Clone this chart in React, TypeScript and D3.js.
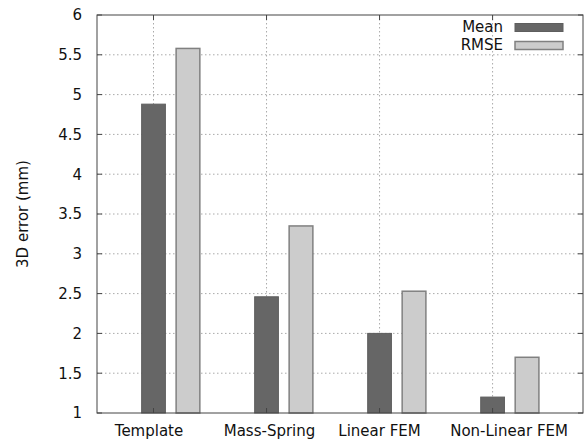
import React from "react";
import * as d3 from "d3";

const categories = ["Template", "Mass-Spring", "Linear FEM", "Non-Linear FEM"];
const meanValues = [4.88, 2.46, 2.0, 1.2];
const rmseValues = [5.58, 3.35, 2.53, 1.7];
const yTicks = [1, 1.5, 2, 2.5, 3, 3.5, 4, 4.5, 5, 5.5, 6];
const seriesNames = ["Mean", "RMSE"];

const W = 584, H = 443;
const L = 97, R = 583, T = 15, B = 413;
const FONT = "'DejaVu Sans', sans-serif";
// small horizontal nudges of the category labels (layout only)
const labelNudge = [-4.5, 3, 0, 16.5];

export default function App() {
  const x = d3.scaleLinear().domain([-0.5, 3.8]).range([L, R]);
  const y = d3.scaleLinear().domain([1, 6]).range([B, T]);
  const bw = x(0.21) - x(0);
  const off = x(0.305) - x(0);
  const gridStyle = { stroke: "#aaaaaa", strokeWidth: 1, strokeDasharray: "1.5,2.5" };
  const fills = ["#666666", "#cccccc"];
  const strokes = ["#5e5e5e", "#808080"];

  return (
    <svg width={W} height={H} style={{ position: "absolute", left: 0, top: 0, background: "#fff" }}>
      {/* grid */}
      {yTicks.slice(1, -1).map((t) => (
        <line key={"gy" + t} x1={L} x2={R} y1={y(t)} y2={y(t)} {...gridStyle} />
      ))}
      {categories.map((c, i) => (
        <line key={"gx" + c} x1={x(i)} x2={x(i)} y1={T} y2={B} {...gridStyle} />
      ))}
      {/* bars */}
      {categories.map((c, i) => (
        <g key={"b" + c}>
          <rect x={x(i) - bw / 2} y={y(meanValues[i])} width={bw} height={B - y(meanValues[i])}
            fill={fills[0]} stroke={strokes[0]} strokeWidth={1} />
          <rect x={x(i) + off - bw / 2} y={y(rmseValues[i])} width={bw} height={B - y(rmseValues[i])}
            fill={fills[1]} stroke={strokes[1]} strokeWidth={1.5} />
        </g>
      ))}
      {/* frame */}
      <rect x={L} y={T} width={R - L} height={B - T} fill="none" stroke="#444" strokeWidth={1} />
      {/* ticks */}
      {yTicks.map((t) => (
        <g key={"ty" + t}>
          <line x1={L} x2={L + 5} y1={y(t)} y2={y(t)} stroke="#444" />
          <line x1={R} x2={R - 5} y1={y(t)} y2={y(t)} stroke="#444" />
          <text x={82} y={y(t) + 5.3} textAnchor="end" fontFamily={FONT} fontSize={15} fill="#111">{t}</text>
        </g>
      ))}
      {categories.map((c, i) => (
        <g key={"tx" + c}>
          <line x1={x(i)} x2={x(i)} y1={B} y2={B - 5} stroke="#444" />
          <line x1={x(i)} x2={x(i)} y1={T} y2={T + 5} stroke="#444" />
          <text x={x(i) + labelNudge[i]} y={436} textAnchor="middle" fontFamily={FONT} fontSize={15} fill="#111">{c}</text>
        </g>
      ))}
      {/* y label */}
      <text transform={`translate(27.5,${(T + B) / 2}) rotate(-90)`} textAnchor="middle" fontFamily={FONT} fontSize={15} fill="#111">3D error (mm)</text>
      {/* legend */}
      {seriesNames.map((s, k) => (
        <g key={"lg" + s}>
          <text x={503} y={32 + k * 18} textAnchor="end" fontFamily={FONT} fontSize={15} fill="#111">{s}</text>
          <rect x={515} y={23.5 + k * 18} width={48} height={8} fill={fills[k]} stroke={strokes[k]} strokeWidth={k ? 1.5 : 1} />
        </g>
      ))}
    </svg>
  );
}
